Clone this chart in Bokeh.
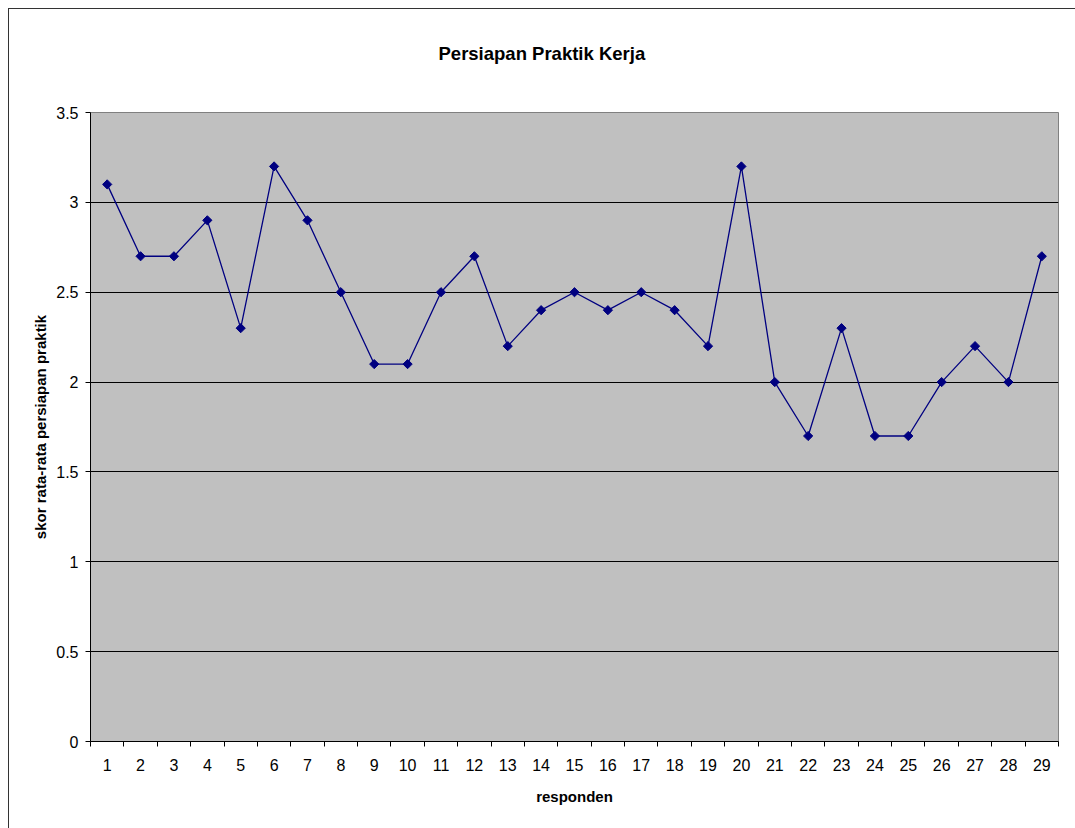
from bokeh.plotting import figure
from bokeh.models import FixedTicker, Range1d, ColumnDataSource, LinearAxis
from bokeh.embed import file_html
from bokeh.resources import INLINE
import math

responden = list(range(1, 30))
skor = [3.1, 2.7, 2.7, 2.9, 2.3, 3.2, 2.9, 2.5, 2.1, 2.1,
        2.5, 2.7, 2.2, 2.4, 2.5, 2.4, 2.5, 2.4, 2.2, 3.2,
        2.0, 1.7, 2.3, 1.7, 1.7, 2.0, 2.2, 2.0, 2.7]
y_ticks = [0, 0.5, 1, 1.5, 2, 2.5, 3, 3.5]
title_text = "Persiapan Praktik Kerja"
x_label = "responden"
y_label = "skor rata-rata persiapan praktik"

FONT = "Liberation Sans"
NAVY = "#000080"

p = figure(width=1067, height=820, output_backend="svg", toolbar_location=None,
           x_range=Range1d(0.5, len(responden) + 0.5), y_range=Range1d(0, 3.5),
           min_border_left=81, min_border_right=18, min_border_top=103, min_border_bottom=88,
           title=title_text)
p.styles = {"margin-left": "8px", "margin-top": "8px",
            "border-left": "1px solid #333333", "border-top": "1px solid #333333"}
p.background_fill_color = "#C0C0C0"
p.border_fill_color = "white"
p.outline_line_color = "#808080"
p.outline_line_width = 1

# invisible spacer axis between frame and title (pushes the title up)
spacer = LinearAxis(ticker=FixedTicker(ticks=[0.5]), axis_line_color=None,
                    major_tick_line_color=None, minor_tick_line_color=None,
                    major_tick_out=44, major_tick_in=0, minor_tick_out=0,
                    major_label_standoff=0, major_label_text_font_size="1px",
                    major_label_text_color=None)
p.add_layout(spacer, "above")

p.title.align = "left"
p.title.offset = 348
p.title.text_font = FONT
p.title.text_font_size = "18.5px"
p.title.text_font_style = "bold"
p.title.text_color = "black"
if "standoff" in p.title.properties():
    p.title.standoff = 10

# grid
p.xgrid.visible = False
p.ygrid.grid_line_color = "black"
p.ygrid.grid_line_width = 1
p.ygrid.ticker = FixedTicker(ticks=y_ticks)

# x axis
xa = p.below[0]
xa.ticker = FixedTicker(ticks=responden, minor_ticks=[i + 0.5 for i in range(0, len(responden) + 1)])
xa.major_tick_line_color = None
xa.major_tick_out = 0
xa.major_tick_in = 0
xa.minor_tick_out = 5
xa.minor_tick_in = 0
xa.minor_tick_line_color = "black"
xa.axis_line_color = "black"
xa.major_label_standoff = 12
xa.major_label_text_font = FONT
xa.major_label_text_font_size = "16px"
xa.major_label_text_color = "black"
xa.axis_label = x_label
xa.axis_label_text_font = FONT
xa.axis_label_text_font_size = "15px"
xa.axis_label_text_font_style = "bold"
xa.axis_label_text_color = "black"
xa.axis_label_standoff = 14

# y axis
ya = p.yaxis[0]
ya.ticker = FixedTicker(ticks=y_ticks)
ya.major_label_overrides = {0: "0", 1: "1", 2: "2", 3: "3"}
ya.major_tick_out = 5
ya.major_tick_in = 0
ya.minor_tick_line_color = None
ya.axis_line_color = "black"
ya.major_tick_line_color = "black"
ya.major_label_standoff = 7
ya.major_label_text_font = FONT
ya.major_label_text_font_size = "16px"
ya.major_label_text_color = "black"
ya.axis_label = y_label
ya.axis_label_text_font = FONT
ya.axis_label_text_font_size = "15px"
ya.axis_label_text_font_style = "bold"
ya.axis_label_text_color = "black"
ya.axis_label_standoff = 4

src = ColumnDataSource(dict(x=responden, y=skor))
p.line("x", "y", source=src, line_color=NAVY, line_width=1.3)
p.scatter("x", "y", source=src, marker="square", size=6.5, angle=math.pi / 4,
          fill_color=NAVY, line_color=NAVY)

open("out.html", "w").write(file_html(p, INLINE))
